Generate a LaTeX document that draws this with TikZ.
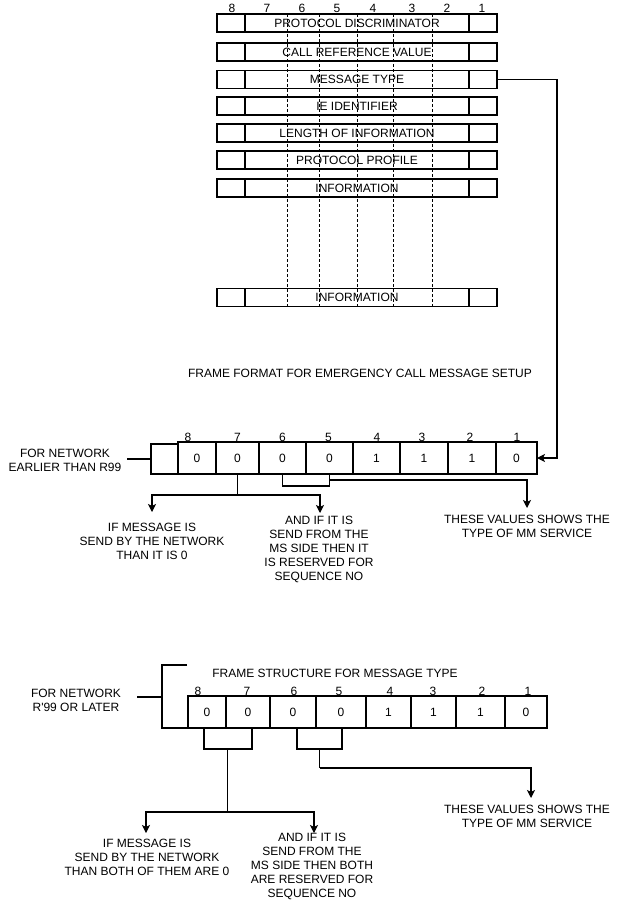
\documentclass[tikz,border=0pt]{standalone}
\usepackage{fontspec}
\setmainfont{Liberation Sans}[Ligatures=TeXOff]
\usetikzlibrary{arrows.meta,calc}
\begin{document}
\begin{tikzpicture}[x=1pt,y=-1pt,
  font=\fontsize{12}{14}\selectfont,
  cellbox/.style={draw, line width=1.1pt, inner sep=0pt, outer sep=0pt, minimum height=18pt},
  bitbox/.style={draw, line width=1.1pt, inner sep=0pt, outer sep=0pt, minimum height=32pt},
  bitnum/.style={inner sep=0pt, text height=8.6pt, text depth=0pt},
  note/.style={align=center, inner sep=0pt},
  dashline/.style={line width=0.9pt, dash pattern=on 3pt off 2pt},
  conn/.style={line width=1.1pt},
  arr/.style={line width=1.1pt, -{Stealth[length=8pt,width=8pt,inset=2pt]}},
  bracketline/.style={line width=2pt}]
\useasboundingbox (0,0) rectangle (619,904);

% ---------- top frame ----------
\foreach \yy/\txt [count=\i] in {23/PROTOCOL DISCRIMINATOR,52/CALL REFERENCE VALUE,79.5/MESSAGE TYPE,106/IE IDENTIFIER,133/LENGTH OF INFORMATION,160/PROTOCOL PROFILE,188/INFORMATION,297.5/INFORMATION}{
  \node[cellbox, minimum width=28pt] (rl\i) at (231,\yy) {};
  \node[cellbox, minimum width=224pt] (rm\i) at (357,\yy) {\txt};
  \node[cellbox, minimum width=28pt] (rr\i) at (483,\yy) {};
}
\foreach \xx in {287,319,357,393,432}{
  \draw[dashline] (\xx,14) -- (\xx,306);
}
\foreach \xx/\n in {232/8,267/7,302/6,337/5,373/4,412/3,447/2,482/1}{
  \node[bitnum] (tb\n) at (\xx,8) {\n};
}

\node[inner sep=0pt] (cap1) at (360,373) {FRAME FORMAT FOR EMERGENCY CALL MESSAGE SETUP};

% ---------- second frame ----------
\foreach \xx/\w/\v/\n in {197/38/0/8,237.5/43/0/7,282.5/47/0/6,329.5/47/0/5,376.5/47/1/4,424/48/1/3,472/48/1/2,516.5/41/0/1}{
  \node[bitbox, minimum width=\w pt] (c\n) at (\xx,458) {\v};
}
\foreach \xx/\n in {188/8,237.5/7,282.5/6,328.5/5,377/4,422/3,470/2,517/1}{
  \node[bitnum] (cb\n) at (\xx,437) {\n};
}
\draw[conn] (rr3.east) -- ++(60,0) coordinate (m1);
\draw[arr] (m1) |- (c1.east);

\node[note] (lab1) at (65,460) {FOR NETWORK\\EARLIER THAN R99};
\coordinate (br1a) at (177,444);
\coordinate (br1b) at (151,444);
\coordinate (br1c) at (151,474);
\coordinate (br1d) at (177,474);
\coordinate (br1s) at (127,459);
\draw[bracketline] (br1a) -- (br1b) -- (br1c) -- (br1d);
\draw[bracketline] (br1s) -- (br1b |- br1s);

\draw[conn] (c7.south) -- ++(0,21) coordinate (j1);
\coordinate (a1) at (152,512);
\coordinate (a2) at (320,513);
\draw[arr] (j1) -| (a1);
\draw[arr] (j1) -| (a2);
\node[note] (t1) at (152,541) {IF MESSAGE IS\\SEND BY THE NETWORK\\THAN IT IS 0};
\node[note] (t2) at (319,549.5) {AND IF IT IS\\SEND FROM THE\\MS SIDE THEN IT\\IS RESERVED FOR\\SEQUENCE NO};

\draw[conn] (c6.south) -- ++(0,12) -| (c5.south);
\coordinate (b1) at ($(c5.south)+(0,6)$);
\coordinate (a3) at (527,508);
\draw[arr] (b1) -| (a3);
\node[note] (t3) at (527,526.5) {THESE VALUES SHOWS THE\\TYPE OF MM SERVICE};

% ---------- third frame ----------
\node[inner sep=0pt] (cap2) at (335,673) {FRAME STRUCTURE FOR MESSAGE TYPE};
\foreach \xx/\w/\v/\n in {207/38/0/8,248/44/0/7,293/46/0/6,341/50/0/5,388.5/45/1/4,433.5/45/1/3,480.5/49/1/2,526/42/0/1}{
  \node[bitbox, minimum width=\w pt] (d\n) at (\xx,712) {\v};
}
\foreach \xx/\n in {198/8,247/7,294/6,339/5,390/4,433/3,482/2,528/1}{
  \node[bitnum] (db\n) at (\xx,691) {\n};
}

\node[note] (lab2) at (76,700) {FOR NETWORK\\R'99 OR LATER};
\coordinate (br2a) at (187,665);
\coordinate (br2b) at (162,665);
\coordinate (br2c) at (162,728);
\coordinate (br2d) at (187,728);
\coordinate (br2s) at (137,697);
\draw[bracketline] (br2a) -- (br2b) -- (br2c) -- (br2d);
\draw[bracketline] (br2s) -- (br2b |- br2s);

\draw[conn] ([xshift=-3pt]d8.south) -- ++(0,21) -| ([xshift=4pt]d7.south);
\coordinate (k1) at ($(d8.south)!0.5!(d7.south)+(0,21)$);
\draw[conn] (k1) -- ++(0,63) coordinate (j2);
\coordinate (a4) at (146,833);
\coordinate (a5) at (314,833);
\draw[arr] (j2) -| (a4);
\draw[arr] (j2) -| (a5);
\node[note] (t4) at (147,857.5) {IF MESSAGE IS\\SEND BY THE NETWORK\\THAN BOTH OF THEM ARE 0};
\node[note] (t5) at (312,866) {AND IF IT IS\\SEND FROM THE\\MS SIDE THEN BOTH\\ARE RESERVED FOR\\SEQUENCE NO};

\draw[conn] ([xshift=4pt]d6.south) -- ++(0,21) -| ([xshift=1pt]d5.south);
\coordinate (k2) at ($(d6.south)!0.5!(d5.south)+(2.5,21)$);
\draw[conn] (k2) -- ++(0,19) coordinate (j3);
\coordinate (a6) at (531,798);
\draw[arr] (j3) -| (a6);
\node[note] (t6) at (527,816) {THESE VALUES SHOWS THE\\TYPE OF MM SERVICE};
\end{tikzpicture}
\end{document}
